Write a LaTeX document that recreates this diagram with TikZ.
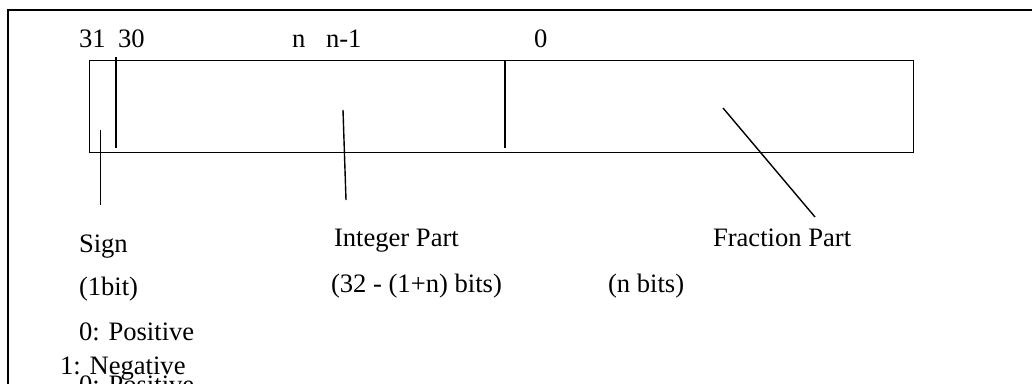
\documentclass[tikz,border=0pt]{standalone}
\usepackage{fontspec}
\setmainfont{Liberation Serif}
\tikzset{
  lbl/.style={anchor=base west, inner sep=0pt, outer sep=0pt, font=\fontsize{26.6}{30}\selectfont},
  frame/.style={line width=1.8pt, draw=black},
  box/.style={line width=1.4pt, draw=black},
  ptr/.style={line width=1.4pt, draw=black}
}
\begin{document}
\begin{tikzpicture}[x=1pt,y=-1pt]
\useasboundingbox (0,0) rectangle (1032,383);
\clip (0,0) rectangle (1032,383);
% outer frame (left and top edges)
\coordinate (fbl) at (8,400);
\coordinate (ftl) at (8,10);
\coordinate (ftr) at (1040,10);
\draw[frame] (fbl) -- (ftl) -- (ftr);
% register box
\node[box, anchor=north west, minimum width=824pt, minimum height=92pt, inner sep=0pt] (reg) at (89,60) {};
% dividers
\coordinate (d30t) at (116,57);
\coordinate (d30b) at (116,148);
\draw[ptr] (d30t) -- (d30b);
\coordinate (dnt) at (505,60);
\coordinate (dnb) at (505,148);
\draw[ptr] (dnt) -- (dnb);
% bit numbers
\node[lbl] (b31) at (79,47) {31};
\node[lbl] (b30) at (118,47) {30};
\node[lbl] (bn) at (292,47) {n};
\node[lbl] (bn1) at (326,47) {n-1};
\node[lbl] (b0) at (534,47) {0};
% labels
\node[lbl] (sign) at (79,252) {Sign};
\node[lbl] (signbits) at (79,295) {(1bit)};
\node[lbl] (pos) at (79,340) {0: Positive};
\node[lbl] (neg) at (60,374) {1: Negative};
\node[lbl] (pos2) at (79,393) {0: Positive};
\node[lbl] (int) at (334,246) {Integer Part};
\node[lbl] (intbits) at (331,292) {(32 - (1+n) bits)};
\node[lbl] (fracbits) at (608,292) {(n bits)};
\node[lbl] (frac) at (713,246) {Fraction Part};
% pointers
\coordinate (ps1) at (100.5,130);
\coordinate (ps2) at (100.5,205);
\draw[ptr] (ps1) -- (ps2);
\coordinate (pi1) at (343,110);
\coordinate (pi2) at (346,200);
\draw[ptr] (pi1) -- (pi2);
\coordinate (pf1) at (723,108);
\coordinate (pf2) at (815,217);
\draw[ptr] (pf1) -- (pf2);
\end{tikzpicture}
\end{document}
